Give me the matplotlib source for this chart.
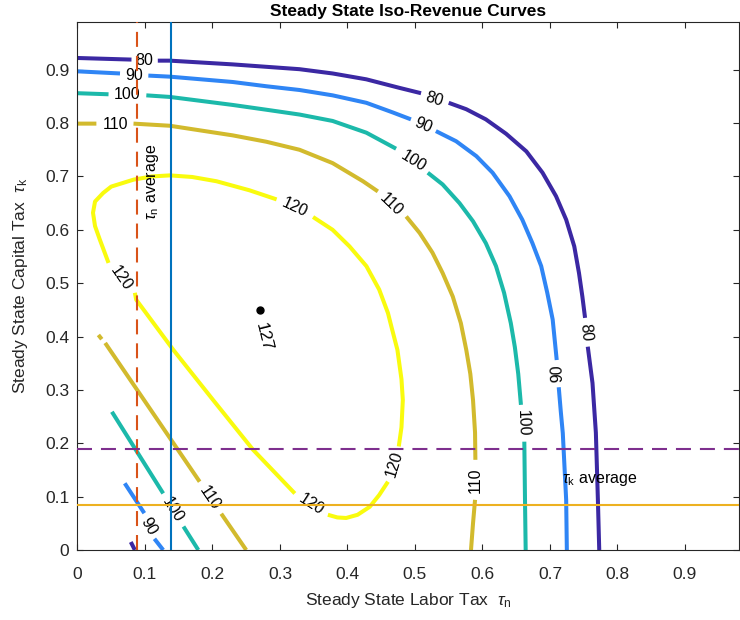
import numpy as np
import matplotlib
matplotlib.use("Agg")
import matplotlib.pyplot as plt

plt.rcParams['font.family'] = ['Liberation Sans', 'DejaVu Sans']
plt.rcParams['mathtext.fontset'] = 'custom'
plt.rcParams['mathtext.rm'] = 'Liberation Sans'
plt.rcParams['mathtext.it'] = 'Liberation Sans:italic'
plt.rcParams['mathtext.sf'] = 'Liberation Sans'

nan = np.nan

# ---- data (tau_n, tau_k) ----
levels = [80, 90, 100, 110, 120]
level_colors = ['#3B28A3', '#2F85F5', '#1CB9AA', '#D2BA2D', '#F9FB0E']

x80 = [0, 0.080, nan, 0.119, 0.137, 0.230, 0.329, 0.378, 0.428, 0.477, 0.509, nan,
       0.550, 0.576, 0.605, 0.635, 0.665, 0.689, 0.709, 0.724, 0.736, 0.743, 0.748, 0.752, nan,
       0.756, 0.763, 0.768, 0.771, 0.773]
y80 = [0.922, 0.919, nan, 0.917, 0.917, 0.910, 0.901, 0.893, 0.882, 0.866, 0.856, nan,
       0.838, 0.826, 0.807, 0.780, 0.747, 0.707, 0.663, 0.619, 0.569, 0.519, 0.475, 0.435, nan,
       0.381, 0.313, 0.220, 0.094, 0]
x80b = [0.079, 0.085]
y80b = [0.015, 0]

x90 = [0, 0.063, nan, 0.105, 0.137, 0.230, 0.280, 0.329, 0.378, 0.428, 0.467, 0.494, nan,
       0.531, 0.561, 0.591, 0.615, 0.640, 0.659, 0.674, 0.687, 0.696, 0.704, 0.710, nan,
       0.713, 0.716, 0.719, 0.724, 0.725]
y90 = [0.897, 0.893, nan, 0.889, 0.887, 0.877, 0.869, 0.862, 0.852, 0.838, 0.820, 0.807, nan,
       0.785, 0.766, 0.738, 0.707, 0.663, 0.619, 0.575, 0.532, 0.482, 0.432, 0.356, nan,
       0.305, 0.260, 0.219, 0.094, 0]
x90b = [0.070, 0.099, nan, 0.114, 0.127]
y90b = [0.125, 0.069, nan, 0.021, 0]

x100 = [0, 0.046, nan, 0.102, 0.137, 0.230, 0.280, 0.329, 0.378, 0.428, 0.472, nan,
        0.519, 0.541, 0.566, 0.586, 0.605, 0.620, 0.632, 0.642, 0.648, 0.653, 0.657, nan,
        0.662, 0.663, 0.664]
y100 = [0.856, 0.854, nan, 0.852, 0.849, 0.834, 0.825, 0.816, 0.804, 0.782, 0.752, nan,
        0.707, 0.685, 0.650, 0.616, 0.575, 0.532, 0.482, 0.425, 0.380, 0.330, 0.272, nan,
        0.203, 0.094, 0]
x100b = [0.051, 0.127, nan, 0.157, 0.179]
y100b = [0.259, 0.106, nan, 0.044, 0]

x110 = [0, 0.028, nan, 0.083, 0.137, 0.230, 0.280, 0.329, 0.378, 0.423, 0.445, nan,
        0.487, 0.507, 0.526, 0.541, 0.556, 0.568, 0.576, 0.582, 0.586, 0.589, 0.5895, nan,
        0.589, 0.586, 0.583]
y110 = [0.799, 0.799, nan, 0.799, 0.795, 0.777, 0.765, 0.750, 0.725, 0.691, 0.672, nan,
        0.625, 0.594, 0.557, 0.519, 0.475, 0.425, 0.375, 0.330, 0.281, 0.220, 0.169, nan,
        0.094, 0.050, 0]
x110b = [0.031, 0.036, nan, 0.041, 0.181, nan, 0.213, 0.250]
y110b = [0.403, 0.395, nan, 0.388, 0.128, nan, 0.068, 0]

x120 = [0.085, 0.087, 0.142, 0.201, 0.260, 0.322, nan,
        0.371, 0.385, 0.398, 0.415, 0.433, 0.447, 0.460, nan,
        0.476, 0.480, 0.482, 0.480, 0.474, 0.465, 0.460, 0.447, 0.428, 0.403, 0.378, 0.349, nan,
        0.295, 0.255, 0.206, 0.170, 0.137, 0.110, 0.083,
        0.050, 0.038, 0.026, 0.023, 0.026, 0.033, 0.046]
y120 = [0.482, 0.469, 0.375, 0.281, 0.188, 0.106, nan,
        0.066, 0.061, 0.060, 0.066, 0.081, 0.103, 0.128, nan,
        0.194, 0.230, 0.281, 0.320, 0.375, 0.419, 0.444, 0.488, 0.532, 0.569, 0.600, 0.624, nan,
        0.657, 0.674, 0.691, 0.699, 0.702, 0.700, 0.694,
        0.681, 0.669, 0.653, 0.632, 0.607, 0.582, 0.538]

curves = [(x80, y80, 0), (x80b, y80b, 0), (x90, y90, 1), (x90b, y90b, 1),
          (x100, y100, 2), (x100b, y100b, 2), (x110, y110, 3), (x110b, y110b, 3),
          (x120, y120, 4)]

# contour labels: value, x, y, rotation
lab_val = ['80', '90', '100', '110',
           '80', '90', '100', '110', '120',
           '80', '90', '100', '110', '120',
           '120', '120', '110', '100', '90']
lab_x = [0.099, 0.084, 0.074, 0.056,
         0.529, 0.512, 0.497, 0.465, 0.322,
         0.753, 0.711, 0.660, 0.589, 0.469,
         0.346, 0.065, 0.196, 0.141, 0.106]
lab_y = [0.917, 0.890, 0.854, 0.798,
         0.845, 0.796, 0.729, 0.648, 0.641,
         0.408, 0.331, 0.238, 0.131, 0.161,
         0.086, 0.510, 0.098, 0.075, 0.045]
lab_rot = [0, 0, 0, 0,
           -17, -23, -32, -44, -25,
           -84, 92, -88, 90, 73,
           -33, -55, -56, -58, -60]

peak_x, peak_y, peak_val = 0.270, 0.450, '127'
tau_n_avg_a = 0.088   # dashed
tau_n_avg_b = 0.138   # solid
tau_k_avg_a = 0.190   # dashed
tau_k_avg_b = 0.085   # solid

xticks = [0, 0.1, 0.2, 0.3, 0.4, 0.5, 0.6, 0.7, 0.8, 0.9]
yticks = [0, 0.1, 0.2, 0.3, 0.4, 0.5, 0.6, 0.7, 0.8, 0.9]

# ---- figure ----
fig = plt.figure(figsize=(7.4, 6.2), dpi=100)
ax = fig.add_axes([0.1047, 0.1129, 0.8939, 0.8521])

for xs, ys, ci in curves:
    ax.plot(xs, ys, color=level_colors[ci], lw=2.9, solid_capstyle='butt',
            solid_joinstyle='round', zorder=2)

for v, lx, ly, r in zip(lab_val, lab_x, lab_y, lab_rot):
    ax.text(lx, ly, v, rotation=r, rotation_mode='anchor', ha='center', va='center',
            fontsize=11.5, color='black', zorder=3)

ax.plot([peak_x], [peak_y], 'o', color='black', ms=5, zorder=4)
ax.text(0.276, 0.400, peak_val, rotation=-76, rotation_mode='anchor', ha='center', va='center',
        fontsize=12.5, color='black', zorder=4)

ax.axvline(tau_n_avg_a, color='#D95319', lw=1.5, ls=(0, (7.2, 4.3)), zorder=5)
ax.axvline(tau_n_avg_b, color='#0072BD', lw=1.5, zorder=5)
ax.axhline(tau_k_avg_a, color='#7E2F8E', lw=1.5, ls=(0, (7.2, 4.3)), zorder=5)
ax.axhline(tau_k_avg_b, color='#EDB120', lw=1.5, zorder=5)

ax.text(0.111, 0.690, r'$\tau_{\mathrm{n}}$ average', rotation=90, ha='center', va='center',
        fontsize=11.5, color='black', zorder=6)
ax.text(0.774, 0.133, r'$\tau_{\mathrm{k}}$ average', ha='center', va='center',
        fontsize=11.5, color='black', zorder=6)

ax.set_xlim(0, 0.98)
ax.set_ylim(0, 0.99)
ax.set_xticks(xticks)
ax.set_yticks(yticks)
ax.set_xticklabels(['0'] + ['%.1f' % t for t in xticks[1:]])
ax.set_yticklabels(['0'] + ['%.1f' % t for t in yticks[1:]])
ax.tick_params(direction='in', length=4, width=0.8, top=True, right=True,
               labelsize=12.5, colors='#262626', pad=6)
ax.tick_params(axis='x', pad=12)
for s in ax.spines.values():
    s.set_color('#262626')
    s.set_linewidth(0.8)

ax.set_xlabel(r'Steady State Labor Tax  $\tau_{\mathrm{n}}$', fontsize=12.5, color='#262626', labelpad=7)
ax.set_ylabel(r'Steady State Capital Tax  $\tau_{\mathrm{k}}$', fontsize=12.5, color='#262626', labelpad=11)
ax.set_title('Steady State Iso-Revenue Curves', fontsize=12.5, fontweight='bold', pad=4)

fig.savefig('out.png', dpi=100)
